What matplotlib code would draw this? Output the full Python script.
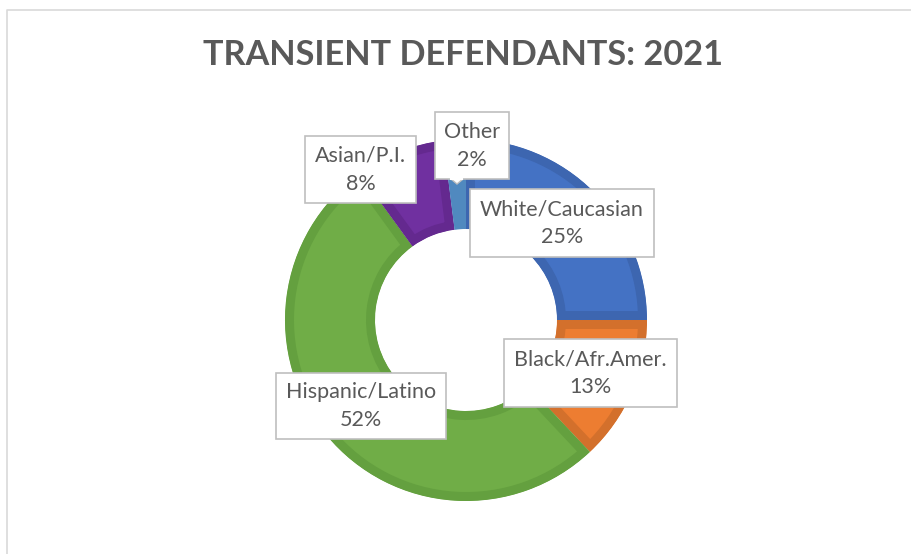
import matplotlib.pyplot as plt
from matplotlib.patches import Rectangle, Polygon

# Data (clockwise from 12 o'clock)
categories = ["White/Caucasian", "Black/Afr.Amer.", "Hispanic/Latino", "Asian/P.I.", "Other"]
values = [25, 13, 52, 8, 2]
fill_colors = ["#4472C4", "#ED7D31", "#70AD47", "#7030A0", "#5B9BD5"]
band_colors = ["#3D66B0", "#D3702C", "#64A03F", "#64298F", "#5089BF"]

# label box centres / sizes in pixel coords (y measured from top)
label_pos = [(562, 223), (590.5, 373), (361, 406), (360.5, 169.5), (472, 145.5)]
label_size = [(184, 68), (173, 68), (170, 66), (111, 67), (74, 67)]

W, H = 912, 554
fig = plt.figure(figsize=(W / 100, H / 100), dpi=100)
ax = fig.add_axes([0, 0, 1, 1])

font = "Lato"
grey = "#595959"

cx, cy = 466, H - 320
R = 181
wedges, _ = ax.pie(values, colors=fill_colors, startangle=90, counterclock=False,
                   radius=R, center=(cx, cy), frame=True,
                   wedgeprops=dict(width=R - 91, linewidth=0))
ax.set_xlim(0, W)
ax.set_ylim(0, H)
ax.set_aspect("equal")
ax.axis("off")

band = 9  # px, inner dark band
for w, bc in zip(wedges, band_colors):
    w.set_edgecolor(bc)
    w.set_linewidth(2 * band * 72 / 100)
    w.set_clip_on(True)
    w.set_clip_path(w)

# chart frame
ax.plot([7.5, 7.5, W + 5], [-5, H - 9.5, H - 9.5], color="#D9D9D9", lw=1.2)

# Title
ax.text(463, H - 55, "TRANSIENT DEFENDANTS: 2021", ha="center", va="center",
        fontsize=24.7, fontweight="bold", color=grey, family=font)

# labels
for name, v, (lx, ly), (bw, bh) in zip(categories, values, label_pos, label_size):
    y = H - ly
    ax.add_patch(Rectangle((lx - bw / 2, y - bh / 2), bw, bh, facecolor="white",
                           edgecolor="#BFBFBF", lw=1.2, zorder=5))
    ax.text(lx, y, f"{name}\n{v}%", ha="center", va="center", fontsize=15.5,
            color=grey, family=font, linespacing=1.5, zorder=6)

# small pointer under the "Other" box
ax.add_patch(Polygon([(451, H - 179), (463, H - 179), (457, H - 184)], closed=True,
                     facecolor="white", edgecolor="#BFBFBF", lw=1.0, zorder=5))
ax.plot([451.5, 462.5], [H - 179, H - 179], color="white", lw=1.5, zorder=6)

fig.savefig("out.png", dpi=100)
